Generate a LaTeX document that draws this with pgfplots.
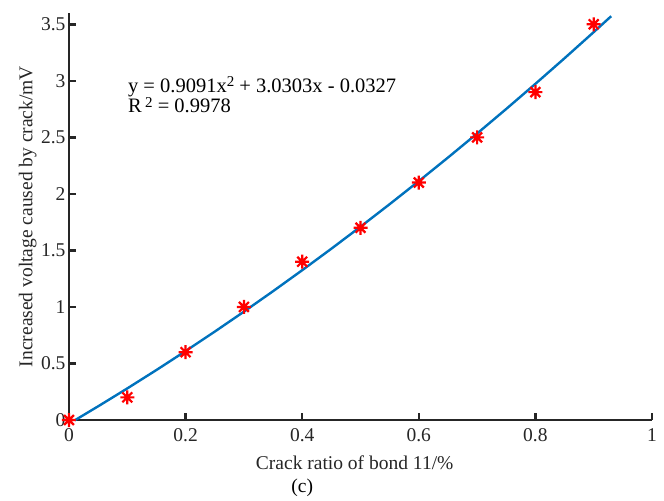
\documentclass[border=0pt]{standalone}
\usepackage{fontspec}
\setmainfont{Liberation Serif}
\usepackage{pgfplots}
\pgfplotsset{compat=1.18}
\definecolor{axgray}{RGB}{38,38,38}
\definecolor{mblue}{RGB}{0,114,189}
% MATLAB-style 8-spoke asterisk
\pgfdeclareplotmark{mstar}{%
  \pgfpathmoveto{\pgfpoint{-\pgfplotmarksize}{0pt}}\pgfpathlineto{\pgfpoint{\pgfplotmarksize}{0pt}}%
  \pgfpathmoveto{\pgfpoint{0pt}{-\pgfplotmarksize}}\pgfpathlineto{\pgfpoint{0pt}{\pgfplotmarksize}}%
  \pgfpathmoveto{\pgfpoint{-0.7071\pgfplotmarksize}{-0.7071\pgfplotmarksize}}\pgfpathlineto{\pgfpoint{0.7071\pgfplotmarksize}{0.7071\pgfplotmarksize}}%
  \pgfpathmoveto{\pgfpoint{-0.7071\pgfplotmarksize}{0.7071\pgfplotmarksize}}\pgfpathlineto{\pgfpoint{0.7071\pgfplotmarksize}{-0.7071\pgfplotmarksize}}%
  \pgfusepathqstroke}
\newcommand{\sq}{\raisebox{0.6ex}{\fontsize{15}{15}\selectfont 2}}
\begin{document}
\begin{tikzpicture}
\begin{axis}[
    scale only axis, width=583pt, height=407pt,
    xmin=0, xmax=1, ymin=0, ymax=3.6,
    axis lines*=left,
    axis line style={axgray, line width=2.4pt},
    tick style={axgray, line width=2.4pt},
    major tick length=7pt, tick align=inside,
    xtick={0,0.2,0.4,0.6,0.8,1},
    ytick={0,0.5,1,1.5,2,2.5,3,3.5},
    /pgf/number format/assume math mode=true,
    ticklabel style={font=\fontsize{19.5}{21}\selectfont, text=axgray},
    xticklabel style={yshift=-5pt},
    label style={font=\fontsize{19.5}{21}\selectfont, text=axgray},
    xlabel={Crack ratio of bond 11/\%},
    ylabel={Increased voltage caused by crack/mV},
    xlabel style={at={(axis description cs:0.49,-0.106)}, anchor=center},
    ylabel style={at={(axis description cs:-0.071,0.5)}, anchor=center},
    clip=false,
]
    % measured points
    \addplot[only marks, mark=mstar, mark size=7pt, red, line width=2.2pt]
      coordinates {
        (0,0) (0.1,0.2) (0.2,0.6) (0.3,1.0) (0.4,1.4)
        (0.5,1.7) (0.6,2.1) (0.7,2.5) (0.8,2.9) (0.9,3.5)
      };
    % quadratic fit, values
    \addplot[mblue, line width=2.4pt]
      coordinates {
        (0.01,-0.0023) (0.05,0.1211) (0.1,0.2794) (0.15,0.4423) (0.2,0.6097)
        (0.25,0.7817) (0.3,0.9582) (0.35,1.1393) (0.4,1.3249) (0.45,1.5150)
        (0.5,1.7097) (0.55,1.9090) (0.6,2.1128) (0.65,2.3211) (0.7,2.5340)
        (0.75,2.7514) (0.8,2.9734) (0.85,3.1999) (0.9,3.4309) (0.93,3.5718)
      };
    \node[anchor=west, align=left, font=\fontsize{20.5}{20.5}\selectfont, text=black, inner sep=0pt]
      at (axis cs:0.101,2.875)
      {y = 0.9091x\sq{} + 3.0303x - 0.0327\\R\,\sq{} = 0.9978};
    \node[font=\fontsize{19.5}{21}\selectfont, text=black]
      at (axis description cs:0.40,-0.167) {(c)};
    % page margins as in the reference
    \path (rel axis cs:0,0) ++(-69pt,-79pt);
    \path (rel axis cs:1,1) ++(12pt,13pt);
\end{axis}
\end{tikzpicture}
\end{document}
